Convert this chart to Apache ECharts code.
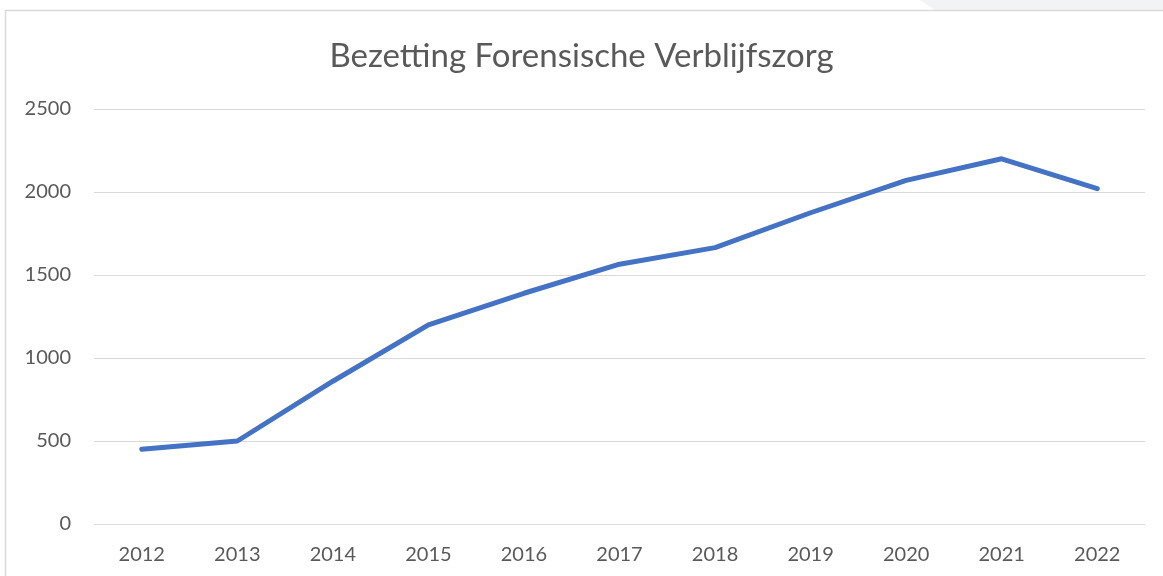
<!DOCTYPE html>
<html>
<head>
<meta charset="utf-8">
<script src="https://cdn.jsdelivr.net/npm/echarts@6/dist/echarts.min.js"></script>
<style>
  html, body { margin: 0; padding: 0; background: #fff; }
  #chart { width: 1163px; height: 576px; }
</style>
</head>
<body>
<div id="chart"></div>
<script>
// Bezetting forensische verblijfszorg per jaar
var years = ['2012', '2013', '2014', '2015', '2016', '2017', '2018', '2019', '2020', '2021', '2022'];
var bezetting = [450, 500, 860, 1200, 1390, 1565, 1665, 1875, 2070, 2200, 2020];
var yTicks = [0, 500, 1000, 1500, 2000, 2500];

var myChart = echarts.init(document.getElementById('chart'));
var labelColor = '#595959';
var fontFam = 'Lato, "Noto Sans", sans-serif';

var option = {
  animation: false,
  title: {
    text: 'Bezetting Forensische Verblijfszorg',
    left: 'center',
    top: 35,
    textStyle: {
      color: labelColor,
      fontFamily: fontFam,
      fontWeight: 400,
      fontSize: 33
    }
  },
  // kader en grijze strook bovenaan, zoals in de schermafbeelding
  graphic: [
    {
      type: 'polygon',
      shape: { points: [[920, 0], [1163, 0], [1163, 10], [935, 10]] },
      style: { fill: '#f2f3f5' },
      silent: true
    },
    {
      type: 'polyline',
      shape: { points: [[5.5, 576], [5.5, 10.5], [1163, 10.5]] },
      style: { stroke: '#d9d9d9', lineWidth: 1.5, fill: null },
      silent: true
    }
  ],
  grid: {
    left: 94,
    right: 18,
    top: 109,
    bottom: 52,
    containLabel: false
  },
  xAxis: {
    type: 'category',
    data: years,
    boundaryGap: true,
    axisLine: { show: false },
    axisTick: { show: false },
    axisLabel: {
      color: labelColor,
      fontFamily: fontFam,
      fontSize: 20,
      margin: 21
    }
  },
  yAxis: {
    type: 'value',
    min: yTicks[0],
    max: yTicks[yTicks.length - 1],
    interval: 500,
    axisLine: { show: false },
    axisTick: { show: false },
    axisLabel: {
      color: labelColor,
      fontFamily: fontFam,
      fontSize: 20,
      margin: 23,
      formatter: function (v) { return String(v); }
    },
    splitLine: { lineStyle: { color: '#d9d9d9', width: 1.2 } }
  },
  series: [
    {
      name: 'Bezetting',
      type: 'line',
      data: bezetting,
      symbol: 'none',
      lineStyle: { color: '#4472c4', width: 5, cap: 'round', join: 'round' }
    }
  ]
};
option && myChart.setOption(option);
</script>
</body>
</html>
